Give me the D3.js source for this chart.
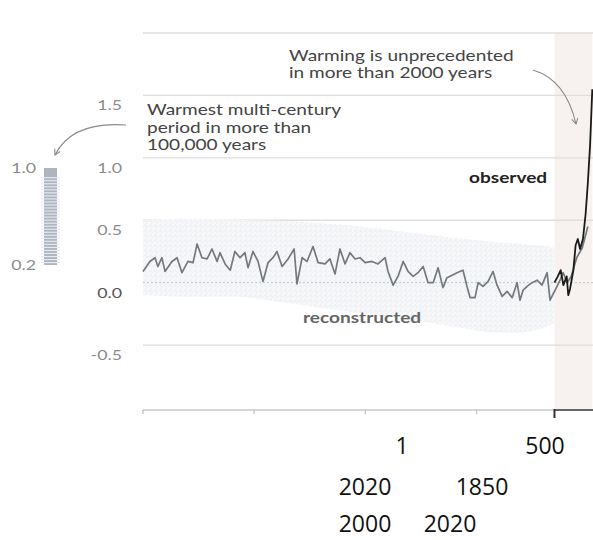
<!DOCTYPE html>
<html>
<head>
<meta charset="utf-8">
<script src="https://cdn.jsdelivr.net/npm/d3@7"></script>
<style>
  body { margin: 0; background: #fff; }
  svg text { font-family: Lato, "Open Sans", sans-serif; }
</style>
</head>
<body>
<div id="chart"></div>
<script>
// reconstructed global surface temperature change (deg C), year / value
var reconYears = [1, 32, 55, 68, 86, 100, 131, 154, 176, 203, 226, 244, 266, 289, 311, 334, 347, 370, 393, 414,
  437, 459, 473, 495, 518, 540, 563, 585, 603, 626, 653, 680, 693, 716, 738, 765, 788, 819, 841, 864,
  886, 909, 931, 954, 976, 999, 1030, 1057, 1089, 1102, 1125, 1147, 1170, 1192, 1215, 1237, 1260, 1282, 1305, 1327,
  1349, 1367, 1390, 1412, 1439, 1457, 1471, 1493, 1507, 1529, 1552, 1574, 1592, 1615, 1637, 1660, 1682, 1695, 1709, 1727,
  1749, 1772, 1794, 1817, 1830, 1853, 1875, 1889, 1907, 1925, 1950, 1975, 2000]
var reconValues = [0.09, 0.17, 0.2, 0.13, 0.2, 0.09, 0.17, 0.2, 0.08, 0.17, 0.16, 0.31, 0.2, 0.19, 0.27, 0.17, 0.24, 0.15, 0.1, 0.25,
  0.2, 0.24, 0.12, 0.25, 0.17, 0.01, 0.16, 0.2, 0.25, 0.13, 0.19, 0.27, -0.01, 0.2, 0.17, 0.29, 0.16, 0.15, 0.19, 0.07,
  0.27, 0.15, 0.24, 0.19, 0.2, 0.16, 0.17, 0.15, 0.2, 0.09, -0.02, 0.05, 0.17, 0.09, 0.05, 0.08, 0.13, 0.0, 0.0, 0.12,
  -0.04, 0.04, 0.06, 0.08, 0.1, -0.03, -0.12, -0.12, 0.0, -0.03, 0.01, 0.09, -0.02, -0.11, -0.07, -0.12, 0.0, -0.14, -0.06, -0.03,
  0.0, 0.02, -0.02, 0.08, -0.14, -0.06, 0.02, 0.08, 0.0, 0.05, 0.2, 0.28, 0.45]

// observed (instrumental) series
var obsYears = [1850, 1865, 1878, 1890, 1905, 1912, 1920, 1935, 1945, 1955, 1965, 1978, 1990, 2000, 2010, 2020]
var obsValues = [0.0, 0.05, 0.1, -0.02, 0.05, -0.1, -0.05, 0.1, 0.3, 0.35, 0.27, 0.35, 0.55, 0.8, 1.1, 1.55]

// uncertainty envelope of the reconstruction
var bandYears = [1, 200, 400, 600, 800, 1000, 1200, 1400, 1600, 1800, 1850]
var bandHigh = [0.5, 0.52, 0.5, 0.5, 0.48, 0.45, 0.4, 0.36, 0.32, 0.3, 0.28]
var bandLow = [-0.1, -0.12, -0.1, -0.15, -0.2, -0.25, -0.3, -0.35, -0.42, -0.38, -0.32]

// y grid / tick labels
var gridValues = [2.0, 1.5, 1.0, 0.5, -0.5]
var tickValues = [1.5, 1.0, 0.5, 0.0, -0.5]
var xTickYears = [1, 500, 1000, 1500]
var periodStart = 1850, periodEnd = 2020

// left inset bar (multi-century range)
var insetTicks = [1.0, 0.2]
var insetStripes = [0.22, 0.245, 0.27, 0.295, 0.32, 0.345, 0.37, 0.395, 0.42, 0.445, 0.47, 0.495, 0.52, 0.545,
  0.57, 0.595, 0.62, 0.645, 0.67, 0.695, 0.72, 0.745, 0.77, 0.795, 0.82, 0.845, 0.87, 0.895, 0.92]

// stray labels at the bottom
var bottomRow1 = ["1", "500"]
var bottomRow2 = ["2020", "1850"]
var bottomRow3 = ["2000", "2020"]

var W = 593, H = 540
var svg = d3.select("#chart").append("svg")
  .attr("width", W).attr("height", H)

var x = d3.scaleLinear().domain([1, 2020]).range([143, 592.3])
var y = d3.scaleLinear().domain([-1.02, 2.0]).range([410, 33])
var yi = d3.scaleLinear().domain([0.2, 1.0]).range([265, 168])

var STRETCH = 1.27
function stretch(sel, k) {
  sel.each(function() {
    var w = this.getComputedTextLength()
    d3.select(this).attr("textLength", w * (k || STRETCH)).attr("lengthAdjust", "spacingAndGlyphs")
  })
}

var defs = svg.append("defs")
var pat = defs.append("pattern")
  .attr("id", "hatch").attr("patternUnits", "userSpaceOnUse")
  .attr("width", 5).attr("height", 5)
pat.append("rect").attr("width", 5).attr("height", 5).attr("fill", "#f7f8fa")
pat.append("path").attr("d", "M0,5 L5,0").attr("stroke", "#e6e8eb").attr("stroke-width", 0.6)
pat.append("circle").attr("cx", 1).attr("cy", 1).attr("r", 0.5).attr("fill", "#d2d6db")

defs.append("marker")
  .attr("id", "arrow").attr("viewBox", "0 0 10 10")
  .attr("refX", 8).attr("refY", 5)
  .attr("markerWidth", 7).attr("markerHeight", 7)
  .attr("orient", "auto-start-reverse")
  .append("path").attr("d", "M1,1 L8,5 L1,9")
  .attr("fill", "none").attr("stroke", "#888").attr("stroke-width", 1.4)

// shaded instrumental period
svg.append("rect")
  .attr("x", x(periodStart)).attr("y", y(2.0))
  .attr("width", x(periodEnd) - x(periodStart)).attr("height", y(-1.02) - y(2.0))
  .attr("fill", "#f7f2ef")

// grid
svg.append("g").selectAll("line").data(gridValues).enter().append("line")
  .attr("x1", x(1)).attr("x2", W)
  .attr("y1", function(d) { return y(d) }).attr("y2", function(d) { return y(d) })
  .attr("stroke", "#dedede").attr("stroke-width", 1.3)

// uncertainty band
var band = bandYears.map(function(d, i) { return { year: d, hi: bandHigh[i], lo: bandLow[i] } })
svg.append("path").datum(band)
  .attr("fill", "url(#hatch)")
  .attr("d", d3.area().curve(d3.curveBasis)
    .x(function(d) { return x(d.year) })
    .y0(function(d) { return y(d.lo) })
    .y1(function(d) { return y(d.hi) }))

// zero line
svg.append("line")
  .attr("x1", x(1)).attr("x2", W).attr("y1", y(0)).attr("y2", y(0))
  .attr("stroke", "#b9c6d3").attr("stroke-width", 1).attr("stroke-dasharray", "2,2")

// reconstructed
var recon = reconYears.map(function(d, i) { return { year: d, value: reconValues[i] } })
svg.append("path").datum(recon)
  .attr("fill", "none").attr("stroke", "#75797d").attr("stroke-width", 1.7)
  .attr("stroke-linejoin", "round")
  .attr("d", d3.line().x(function(d) { return x(d.year) }).y(function(d) { return y(d.value) }))

// observed
var obs = obsYears.map(function(d, i) { return { year: d, value: obsValues[i] } })
svg.append("path").datum(obs)
  .attr("fill", "none").attr("stroke", "#1a1a1a").attr("stroke-width", 1.8)
  .attr("stroke-linejoin", "round")
  .attr("d", d3.line().x(function(d) { return x(d.year) }).y(function(d) { return y(d.value) }))

// x axis
svg.append("line")
  .attr("x1", x(1)).attr("x2", W).attr("y1", 410).attr("y2", 410)
  .attr("stroke", "#c8c8c8").attr("stroke-width", 1.3)
svg.append("g").selectAll("line").data(xTickYears).enter().append("line")
  .attr("x1", function(d) { return x(d) }).attr("x2", function(d) { return x(d) })
  .attr("y1", 410).attr("y2", 414)
  .attr("stroke", "#bdbdbd").attr("stroke-width", 1.2)
svg.append("line")
  .attr("x1", x(periodStart)).attr("x2", W).attr("y1", 410).attr("y2", 410)
  .attr("stroke", "#666").attr("stroke-width", 2.2)
svg.append("line")
  .attr("x1", x(periodStart)).attr("x2", x(periodStart)).attr("y1", 409).attr("y2", 418)
  .attr("stroke", "#333").attr("stroke-width", 2)

// y tick labels
svg.append("g").selectAll("text").data(tickValues).enter().append("text")
  .attr("x", 122).attr("y", function(d) { return y(d) + 15 })
  .attr("text-anchor", "end")
  .attr("font-size", 14)
  .attr("fill", function(d) { return d === 0 ? "#555" : "#8c8c8c" })
  .text(function(d) { return d3.format(".1f")(d).replace("−", "-") })
  .call(stretch)

// left inset
var inset = svg.append("g")
inset.append("rect")
  .attr("x", 44).attr("y", yi(1.0)).attr("width", 13).attr("height", yi(0.2) - yi(1.0))
  .attr("fill", "#aeb5bf")
inset.selectAll("line.stripe").data(insetStripes).enter().append("line")
  .attr("class", "stripe")
  .attr("x1", 41).attr("x2", 60)
  .attr("y1", function(d) { return yi(d) }).attr("y2", function(d) { return yi(d) })
  .attr("stroke", "#e9edf2").attr("stroke-width", 1.1)
inset.selectAll("text").data(insetTicks).enter().append("text")
  .attr("x", 36).attr("y", function(d) { return yi(d) + 5 })
  .attr("text-anchor", "end").attr("font-size", 14).attr("fill", "#8c8c8c")
  .text(function(d) { return d3.format(".1f")(d) })
  .call(stretch)

// annotations
function lines(g, arr, x0, y0, dy, size, color, weight) {
  g.selectAll("text").data(arr).enter().append("text")
    .attr("x", x0).attr("y", function(d, i) { return y0 + i * dy })
    .attr("font-size", size).attr("fill", color).attr("font-weight", weight || "normal")
    .text(function(d) { return d })
    .call(stretch)
}
lines(svg.append("g"), ["Warming is unprecedented", "in more than 2000 years"], 289, 61, 17, 15, "#444")
lines(svg.append("g"), ["Warmest multi-century", "period in more than", "100,000 years"], 147, 115, 17.5, 15, "#444")
lines(svg.append("g"), ["observed"], 469, 183, 0, 15, "#222", "bold")
lines(svg.append("g"), ["reconstructed"], 303, 323, 0, 15, "#666", "bold")

svg.append("path")
  .attr("d", "M126,125 Q72,121 55,155")
  .attr("fill", "none").attr("stroke", "#888").attr("stroke-width", 1.1)
  .attr("marker-end", "url(#arrow)")
svg.append("path")
  .attr("d", "M533,70 Q566,80 576,124")
  .attr("fill", "none").attr("stroke", "#888").attr("stroke-width", 1.1)
  .attr("marker-end", "url(#arrow)")

// stray bottom labels
function row(arr, xs, yb) {
  svg.append("g").selectAll("text").data(arr).enter().append("text")
    .attr("x", function(d, i) { return xs[i] }).attr("y", yb)
    .attr("text-anchor", "middle")
    .attr("font-size", 23).attr("fill", "#111")
    .style("font-family", "'Open Sans', sans-serif")
    .text(function(d) { return d })
}
row(bottomRow1, [402, 545], 454)
row(bottomRow2, [365, 482], 495)
row(bottomRow3, [365, 450], 532)
</script>
</body>
</html>
